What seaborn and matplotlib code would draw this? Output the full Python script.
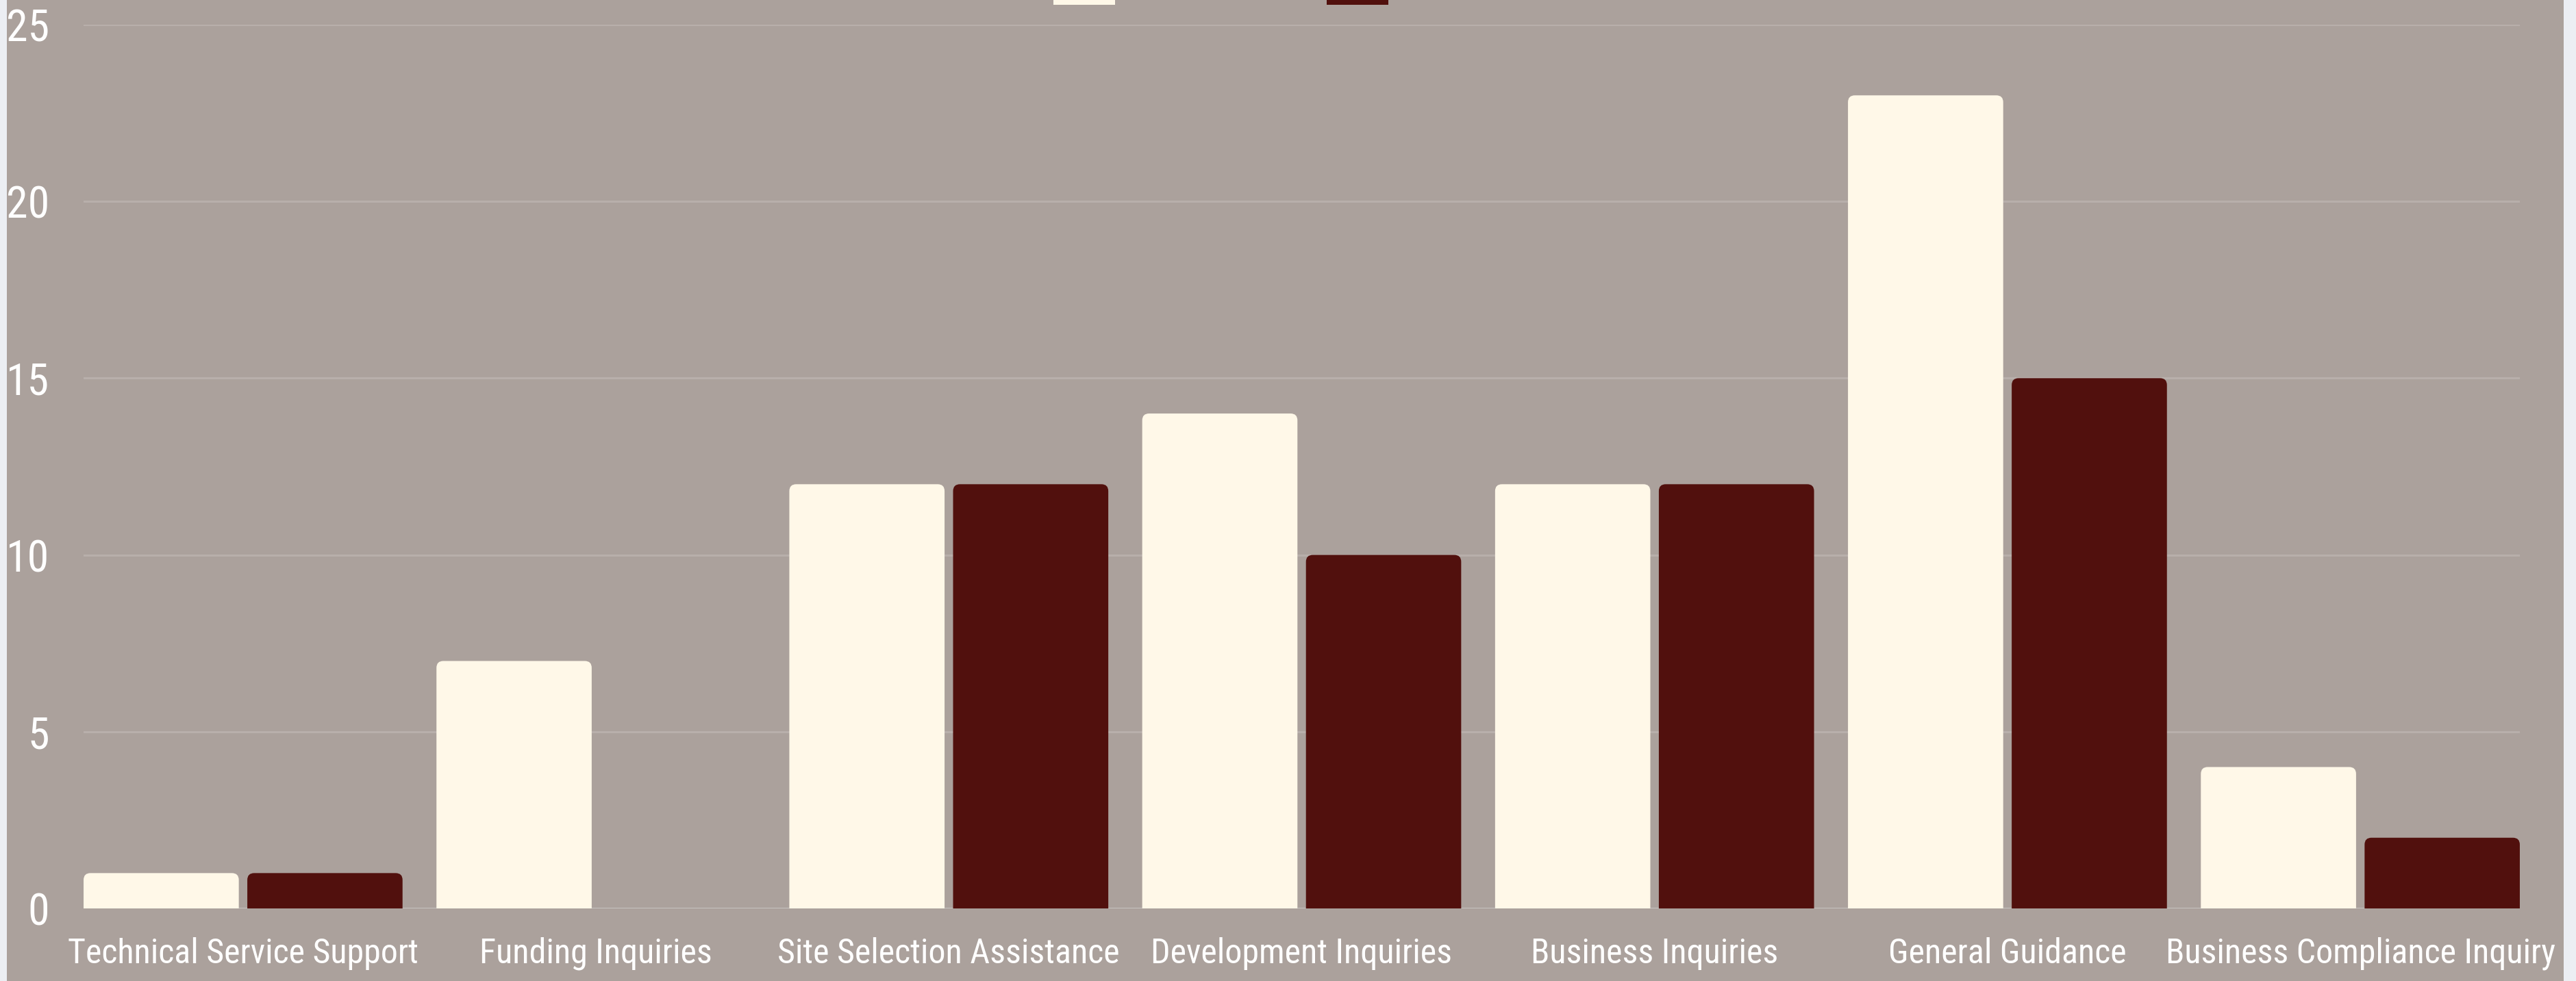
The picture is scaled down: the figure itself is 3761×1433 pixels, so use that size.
import numpy as np
import pandas as pd
import seaborn as sns
import matplotlib.pyplot as plt
from matplotlib.patches import Rectangle, FancyBboxPatch

# categories and the two series
categories = ["Technical Service Support", "Funding Inquiries", "Site Selection Assistance",
              "Development Inquiries", "Business Inquiries", "General Guidance",
              "Business Compliance Inquiry"]
series_names = ["Previous Year", "Current Year"]
first_values = [1, 7, 12, 14, 12, 23, 4]
second_values = [1, 0, 12, 10, 12, 15, 2]
y_ticks = [0, 5, 10, 15, 20, 25]

df = pd.DataFrame({
    "category": categories * 2,
    "series": [series_names[0]] * len(categories) + [series_names[1]] * len(categories),
    "value": first_values + second_values,
})

cream = "#fff8e8"
maroon = "#51100d"
panel = "#aba19c"

sns.set_theme(style="white")
plt.rcParams['font.family'] = ['Roboto Condensed', 'Liberation Sans', 'DejaVu Sans']

W, H = 3762, 1433
fig = plt.figure(figsize=(W / 100, H / 100), dpi=100)
fig.patch.set_facecolor("#eceef3")
fig.add_artist(Rectangle((10 / W, 0), (3743 - 10) / W, 1, transform=fig.transFigure,
                         facecolor=panel, edgecolor="none", zorder=0))

ax = fig.add_axes([122 / W, 1 - 1327 / H, (3679 - 122) / W, (1327 - 36) / H])
ax.set_facecolor("none")

sns.barplot(data=df, x="category", y="value", hue="series", order=categories,
            hue_order=series_names, palette=[cream, maroon], saturation=1,
            width=0.928, gap=0.052, ax=ax, legend=True, zorder=3, linewidth=0)

# keep seaborn's legend swatches before the bars get restyled
old_leg = ax.get_legend()
handles = list(old_leg.legend_handles)
labels = [t.get_text() for t in old_leg.get_texts()]
old_leg.remove()

ax.set_xlim(-0.452, len(categories) - 1 + 0.452)
ax.set_ylim(0, 25)
ax.set_yticks(y_ticks)
ax.set_yticklabels([str(t) for t in y_ticks])
ax.set_xlabel("")
ax.set_ylabel("")

# round the top corners of the bars (bottom corners hide below the baseline)
fig.canvas.draw()
px_x = 1 / (ax.transData.transform((1, 0))[0] - ax.transData.transform((0, 0))[0])
px_y = 1 / (ax.transData.transform((0, 1))[1] - ax.transData.transform((0, 0))[1])
radius = 10
for bar in list(ax.patches):
    x0, w = bar.get_x(), bar.get_width()
    h = bar.get_height()
    ext = 2 * radius * px_y
    rounded = FancyBboxPatch((x0, -ext), w, h + ext,
                             boxstyle=f"round,pad=0,rounding_size={radius * px_x}",
                             mutation_aspect=px_y / px_x, facecolor=bar.get_facecolor(),
                             edgecolor="none", zorder=3)
    bar.set_visible(False)
    ax.add_patch(rounded)

for t in y_ticks:
    ax.axhline(t, color="#c6c2c0" if t == 0 else "#b8afab", lw=2.2, zorder=1)

for s in ax.spines.values():
    s.set_visible(False)
ax.tick_params(axis="y", length=0, pad=36, labelsize=46, labelcolor="white")
ax.tick_params(axis="x", length=0, pad=30, labelsize=36, labelcolor="white")

# legend sits above the panel and is mostly cut off: only the bottom of the swatches shows
leg_fs = 20
fs_px = leg_fs * 100 / 72
swatch_left, swatch2_left, swatch_bottom = 1538, 1937, H - 7


def make_legend(colspace):
    lg = fig.legend(handles, labels, loc="lower left", bbox_to_anchor=(0.4, 0.9),
                    ncol=2, frameon=False, fontsize=leg_fs, handlelength=90 / fs_px,
                    handleheight=2.0, handletextpad=0.5, columnspacing=colspace,
                    borderpad=0, borderaxespad=0, labelcolor="white")
    for hnd, col in zip(lg.legend_handles, [cream, maroon]):
        hnd.set_facecolor(col)
        hnd.set_visible(True)
    return lg


leg = make_legend(1.0)
fig.canvas.draw()
b0 = leg.legend_handles[0].get_window_extent()
b1 = leg.legend_handles[1].get_window_extent()
extra = (swatch2_left - swatch_left) - (b1.x0 - b0.x0)
leg.remove()
leg = make_legend(1.0 + extra / fs_px)
fig.canvas.draw()
b0 = leg.legend_handles[0].get_window_extent()
leg.set_bbox_to_anchor((0.4 + (swatch_left - b0.x0) / W, 0.9 + (swatch_bottom - b0.y0) / H),
                       transform=fig.transFigure)

fig.savefig("out.png", dpi=100, facecolor=fig.get_facecolor())
